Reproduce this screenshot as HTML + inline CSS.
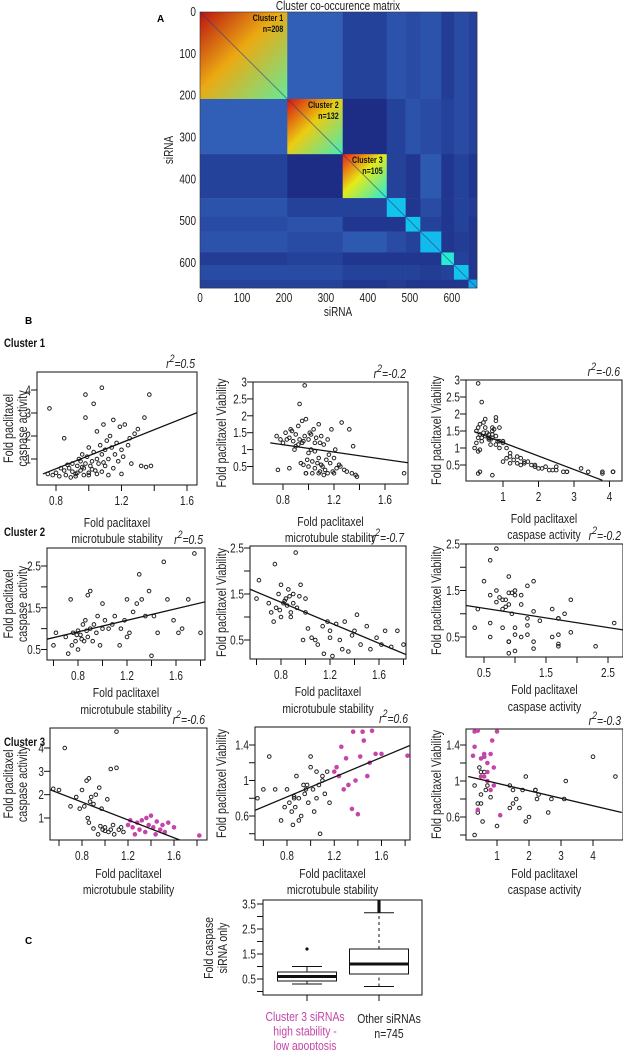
<!DOCTYPE html>
<html><head><meta charset="utf-8"><style>
html,body{margin:0;padding:0;background:#fff;}
svg{display:block;font-family:"Liberation Sans",Arial,sans-serif;}
</style></head><body>
<svg id="fig" width="623" height="1050" viewBox="0 0 623 1050"></svg>
<script>
// ---------- DATA ----------
const blockSizes=[208,132,105,45,35,50,30,35,20];
const blockMatrix=[
[0.72,0.2,0.1,0.16,0.13,0.16,0.08,0.13,0.1],
[0.2,0.68,0.03,0.1,0.16,0.13,0.1,0.13,0.1],
[0.1,0.03,0.64,0.1,0.06,0.18,0.06,0.1,0.06],
[0.16,0.1,0.1,0.33,0.06,0.13,0.06,0.1,0.08],
[0.13,0.16,0.06,0.06,0.33,0.1,0.06,0.1,0.06],
[0.16,0.13,0.18,0.13,0.1,0.32,0.06,0.08,0.06],
[0.08,0.1,0.06,0.06,0.06,0.06,0.4,0.1,0.06],
[0.13,0.13,0.1,0.1,0.1,0.08,0.1,0.33,0.06],
[0.1,0.1,0.06,0.08,0.06,0.06,0.06,0.06,0.3]];
const heatTicks=[0,100,200,300,400,500,600];
const clusterLabels=["Cluster 1","Cluster 2","Cluster 3"];
const clusterN=["n=208","n=132","n=105"];

// [stability, caspase, viability]
const cluster1=[[0.75,0.35,1.4],[0.78,0.3,1.3],[0.8,0.4,1.2],[0.82,0.25,1.5],[0.85,0.5,1.35],[0.86,0.3,1.6],[0.88,0.6,1.25],[0.9,0.45,1.45],[0.9,0.8,1.1],[0.92,0.35,1.7],[0.93,0.7,1.3],[0.94,1.0,0.6],[0.95,0.5,1.85],[0.95,0.9,1.2],[0.96,1.2,0.55],[0.97,0.6,1.4],[0.98,0.8,1.9],[0.98,2.8,0.3],[0.99,1.1,0.7],[1.0,0.4,1.3],[1.0,1.5,0.5],[1.01,0.7,1.5],[1.02,0.9,1.0],[1.03,1.3,0.65],[1.03,3.4,0.3],[1.04,0.5,1.6],[1.05,1.0,1.2],[1.05,2.2,0.45],[1.06,0.8,1.35],[1.07,1.6,0.6],[1.08,1.2,0.75],[1.08,0.45,1.75],[1.09,2.5,0.35],[1.1,1.4,0.55],[1.1,0.7,1.4],[1.11,1.8,0.5],[1.12,1.0,1.15],[1.13,2.0,0.4],[1.14,1.5,0.7],[1.15,0.6,1.3],[1.15,2.7,0.3],[1.16,1.2,0.85],[1.17,1.7,0.6],[1.18,0.9,1.6],[1.19,2.4,0.35],[1.2,1.4,0.75],[1.21,1.1,1.0],[1.22,2.5,0.45],[1.24,1.6,0.55],[1.25,1.9,0.5],[1.26,0.8,1.8],[1.28,2.1,0.4],[1.3,2.3,0.35],[1.32,0.7,1.6],[1.34,2.8,0.3],[1.35,0.65,1.1],[1.37,3.8,0.25],[1.38,0.7,0.2],[0.76,3.2,0.4],[0.98,3.8,0.3],[1.08,4.1,0.3],[1.75,4.1,0.3],[0.97,0.3,2.9],[0.93,0.4,2.35],[0.85,1.9,0.45],[0.92,0.25,1.15],[1.0,0.3,0.9],[1.05,0.35,0.95],[0.89,0.2,1.0],[1.12,0.3,0.25],[1.2,0.35,0.3],[0.83,0.6,1.3],[0.96,0.65,1.25],[1.02,0.55,1.45],[0.87,0.75,1.55],[1.09,0.85,1.2]];
const cluster2=[[0.6,0.6,1.4],[0.62,0.9,1.8],[0.7,0.8,1.3],[0.72,0.4,1.1],[0.74,1.7,0.9],[0.75,0.6,2.15],[0.76,0.9,1.2],[0.78,0.7,1.5],[0.8,0.95,1.0],[0.8,0.5,1.7],[0.82,0.85,1.3],[0.84,1.1,1.4],[0.85,0.7,1.25],[0.86,1.2,1.6],[0.88,0.8,1.1],[0.88,1.8,1.0],[0.9,1.0,1.5],[0.9,1.9,1.3],[0.92,0.7,2.4],[0.93,1.1,1.2],[0.95,0.9,1.45],[0.96,1.3,1.7],[0.98,0.6,0.5],[1.0,1.0,1.4],[1.0,1.6,1.1],[1.02,1.2,0.75],[1.05,1.0,0.55],[1.08,1.1,0.5],[1.1,1.3,0.4],[1.14,0.6,0.8],[1.15,1.0,0.2],[1.18,1.2,0.9],[1.2,0.8,0.7],[1.2,1.7,0.55],[1.22,0.9,0.15],[1.25,1.4,0.85],[1.28,1.6,0.5],[1.3,2.3,0.3],[1.32,1.7,0.9],[1.35,1.3,0.25],[1.38,1.9,0.6],[1.4,0.35,0.7],[1.42,1.3,1.05],[1.45,0.9,0.4],[1.5,2.6,0.8],[1.53,1.7,0.3],[1.58,1.2,0.55],[1.62,0.9,0.4],[1.65,1.0,0.7],[1.7,1.7,0.35],[1.75,2.8,0.7],[1.8,0.9,0.4],[0.83,0.75,1.35],[0.79,0.85,1.15],[0.87,0.95,1.45]];
const cluster3=[[0.55,2.25,0.8],[0.6,2.2,0.9],[0.65,4.0,1.27],[0.7,1.5,0.9],[0.75,1.9,0.55],[0.78,1.4,0.7],[0.8,2.2,0.9],[0.82,1.5,0.75],[0.84,2.6,0.65],[0.85,1.0,0.5],[0.86,2.7,0.8],[0.87,1.7,0.7],[0.88,1.9,1.05],[0.9,1.6,0.8],[0.92,2.0,0.6],[0.94,0.3,0.95],[0.95,2.3,0.85],[0.97,1.4,0.95],[0.98,0.5,0.75],[1.0,0.6,1.27],[1.02,1.8,0.9],[1.03,0.4,0.65],[1.05,3.1,0.8],[1.05,0.5,1.1],[1.07,0.7,0.95],[1.08,0.3,0.4],[1.1,3.15,1.0],[1.1,4.7,1.05],[1.12,0.5,0.85],[1.14,0.6,1.1],[1.16,0.4,0.75],[0.9,0.55,0.55],[1.0,0.45,1.15],[0.86,0.8,0.82],[0.96,0.65,0.9]];
const cluster3Pink=[[1.2,0.7,1.1],[1.22,0.9,1.15],[1.24,0.6,1.05],[1.26,0.3,1.38],[1.28,0.8,0.9],[1.3,0.5,1.25],[1.32,0.9,0.95],[1.35,0.4,0.68],[1.36,1.0,1.55],[1.38,0.7,1.0],[1.4,1.1,0.62],[1.42,0.6,1.27],[1.44,0.3,1.55],[1.45,0.85,1.45],[1.48,0.5,1.05],[1.5,0.7,1.2],[1.52,0.4,1.56],[1.55,0.8,1.3],[1.6,0.6,1.3],[1.82,0.25,1.28]];
const rSquared=[["0.5","-0.2","-0.6"],["0.5","-0.7","-0.2"],["-0.6","0.6","-0.3"]];
// fit lines [x0,y0,x1,y1]
const fitLines=[
[[0.72,0.35,1.78,3.35],[0.7,1.2,1.8,0.6],[0.2,1.48,3.8,0.05]],
[[0.55,0.75,1.85,1.65],[0.55,1.6,1.85,0.15],[0.2,1.18,3.0,0.6]],
[[0.45,2.35,1.68,0.0],[0.45,0.62,1.85,1.4],[0.1,1.05,4.9,0.65]]];
const boxGroups=["Cluster 3 siRNAs","Other siRNAs"];
const boxStats=[[0.3,0.42,0.6,0.78,1.0],[0.2,0.7,1.1,1.7,3.15]];
const boxOutliers=[[1.7],[3.2,3.25,3.3,3.35,3.4,3.45,3.5,3.55,3.6]];
const boxTicks=[0.5,1.5,2.5,3.5];

// ---------- HELPERS ----------
const NS="http://www.w3.org/2000/svg";
const svg=document.getElementById('fig');
const FS=12.5, SX=0.8;
function el(tag,attrs,parent,text){const e=document.createElementNS(NS,tag);for(const k in attrs)e.setAttribute(k,attrs[k]);if(text!==undefined)e.textContent=text;(parent||svg).appendChild(e);return e;}
// condensed text: position via transform, horizontally squeezed
function ctext(parent,x,y,str,anchor,opts){opts=opts||{};const rot=opts.rot?` rotate(${opts.rot})`:'';
 const a={x:0,y:0,'font-size':opts.size||FS,'text-anchor':anchor||'start',fill:opts.fill||'#222',transform:`translate(${x},${y})${rot} scale(${SX},1)`};
 if(opts.italic)a['font-style']='italic';if(opts.bold)a['font-weight']='bold';
 return el('text',a,parent,str);}
function lin(v1,p1,v2,p2){return v=>p1+(v-v1)*(p2-p1)/(v2-v1);}
function cmap(v){
 if(v<0.3){const a=v/0.3;const c0=[26,36,125],c1=[60,125,212];return `rgb(${Math.round(c0[0]+(c1[0]-c0[0])*a)},${Math.round(c0[1]+(c1[1]-c0[1])*a)},${Math.round(c0[2]+(c1[2]-c0[2])*a)})`;}
 const c=x=>Math.max(0,Math.min(1,x));let r=c(1.5-Math.abs(4*v-3)),g=c(1.5-Math.abs(4*v-2)),b=c(1.5-Math.abs(4*v-1));
 const m=0.85;r=r*m+0.07;g=g*m+0.07;b=b*m+0.07;return `rgb(${Math.round(r*255)},${Math.round(g*255)},${Math.round(b*255)})`;}

// ---------- LETTERS ----------
[["A",157,22],["B",25,324],["C",25,944]].forEach(a=>{const t=el('text',{x:a[1],y:a[2],'font-size':10,'font-weight':'bold'},svg,a[0]);

});

// ---------- HEATMAP ----------
const hx=lin(0,200,660,477), hy=lin(0,12,660,288);
const hg=el('g',{});


const defs=el('defs',{});
let starts=[0];blockSizes.forEach((s,i)=>starts.push(starts[i]+s));
for(let i=0;i<blockSizes.length;i++){for(let j=0;j<blockSizes.length;j++){
 const v=blockMatrix[i][j];let fill=cmap(v);
 if(i===j&&i<3){const gid='grad'+i;const lg=el('linearGradient',{id:gid,x1:0,y1:0,x2:1,y2:1},defs);
  el('stop',{offset:'0%','stop-color':cmap(Math.min(0.93,v+0.22))},lg);el('stop',{offset:'45%','stop-color':cmap(v-0.02)},lg);el('stop',{offset:'100%','stop-color':cmap(v-0.25)},lg);fill=`url(#${gid})`;}
 const r=el('rect',{x:hx(starts[j]),y:hy(starts[i]),width:hx(starts[j+1])-hx(starts[j])+0.3,height:hy(starts[i+1])-hy(starts[i])+0.3,fill:fill},hg);
 
 
}}
el('line',{x1:hx(0),y1:hy(0),x2:hx(660),y2:hy(660),stroke:'#2a3c8a','stroke-width':0.8,opacity:0.7},hg);
el('rect',{x:200,y:12,width:277,height:276,fill:'none',stroke:'#333','stroke-width':0.6},hg);
const ht=ctext(svg,338,10,'Cluster co-occurence matrix','middle',{size:12.5});

heatTicks.forEach(t=>{
 ctext(svg,196,hy(t)+4,String(t),'end');
 ctext(svg,hx(t),302,String(t),'middle');
});
const hxl=ctext(svg,338,316,'siRNA','middle');

const hyl=ctext(svg,173,150,'siRNA','middle',{rot:-90});

for(let k=0;k<3;k++){
 const xr=hx(starts[k+1])-4;
 const a=ctext(svg,xr,hy(starts[k])+9,clusterLabels[k],'end',{size:9,bold:true,fill:'#111'});
 
 ctext(svg,xr,hy(starts[k])+20,clusterN[k],'end',{size:9,bold:true,fill:'#111'});
}

// ---------- SCATTERS ----------
[["Cluster 1",347],["Cluster 2",536],["Cluster 3",746]].forEach(c=>{const t=ctext(svg,4,c[1],c[0],'start',{size:12,bold:true,fill:'#111'});
});

const panels=[
 {box:[37,372,197,485],xc:[0.8,56,1.6,187],yc:[1,459,4,390],xt:[0.8,1.2,1.6],xm:[1.0,1.4],yt:[1,2,3,4],ym:[],ylab:2,yx:[8,22],xv:0,yv:1,data:[cluster1],row:0},
 {box:[253,382,408,484],xc:[0.8,283,1.6,385],yc:[0.5,466.5,3,382],xt:[0.8,1.2,1.6],xm:[1.0,1.4],yt:[0.5,1,1.5,2,2.5,3],ym:[],ylab:1,yx:[221],xv:0,yv:2,data:[cluster1],row:0},
 {box:[466,380,622,481],xc:[1,503,4,609.5],yc:[0.5,465,3,380],xt:[1,2,3,4],xm:[],yt:[0.5,1,1.5,2,2.5,3],ym:[],ylab:1,yx:[436],xv:1,yv:2,data:[cluster1],row:0},
 {box:[47,548,205,660],xc:[0.8,78,1.6,176],yc:[0.5,649.5,2.5,566],xt:[0.8,1.2,1.6],xm:[0.6,1.0,1.4,1.8],yt:[0.5,1.5,2.5],ym:[1,2],ylab:2,yx:[8,22],xv:0,yv:1,data:[cluster2],row:1},
 {box:[250,546,406,659],xc:[0.8,281,1.6,379],yc:[0.5,640,2.5,548],xt:[0.8,1.2,1.6],xm:[0.6,1.0,1.4,1.8],yt:[0.5,1.5,2.5],ym:[1,2],ylab:1,yx:[221],xv:0,yv:2,data:[cluster2],row:1},
 {box:[466,544,623,657],xc:[0.5,484,2.5,608],yc:[0.5,637,2.5,544],xt:[0.5,1.5,2.5],xm:[1,2],yt:[0.5,1.5,2.5],ym:[1,2],ylab:1,yx:[436],xv:1,yv:2,data:[cluster2],row:1},
 {box:[50,728,207,840],xc:[0.8,82,1.6,174],yc:[1,818,4,748],xt:[0.8,1.2,1.6],xm:[0.6,1.0,1.4,1.8],yt:[1,2,3,4],ym:[],ylab:2,yx:[8,22],xv:0,yv:1,data:[cluster3,cluster3Pink],row:2},
 {box:[255,727,410,840],xc:[0.8,287,1.6,381.5],yc:[0.6,816,1.4,745],xt:[0.8,1.2,1.6],xm:[0.6,1.0,1.4,1.8],yt:[0.6,1,1.4],ym:[0.4,0.8,1.2],ylab:1,yx:[221],xv:0,yv:2,data:[cluster3,cluster3Pink],row:2},
 {box:[466,729,623,840],xc:[1,497,4,593],yc:[0.6,817,1.4,745],xt:[1,2,3,4],xm:[],yt:[0.6,1,1.4],ym:[0.4,0.8,1.2],ylab:1,yx:[436],xv:1,yv:2,data:[cluster3,cluster3Pink],row:2}
];
const titleOffsets=[[42,58],[37,54],[38,54]];
const xTitles=[["Fold paclitaxel","microtubule stability"],["Fold paclitaxel","microtubule stability"],["Fold paclitaxel","caspase activity"]];
const colors=['#222','#c545a8'];

panels.forEach((p,pi)=>{
 const [l,t,r,b]=p.box;const X=lin(p.xc[0],p.xc[1],p.xc[2],p.xc[3]);const Y=lin(p.yc[0],p.yc[1],p.yc[2],p.yc[3]);
 const col=pi%3,row=p.row;
 const g=el('g',{});
 
 
 const cid='clip'+pi;const cp=el('clipPath',{id:cid},defs);el('rect',{x:l,y:t,width:r-l,height:b-t},cp);
 el('rect',{x:l,y:t,width:r-l,height:b-t,fill:'none',stroke:'#111','stroke-width':1},g);
 p.xt.concat(p.xm).forEach(v=>{el('line',{x1:X(v),x2:X(v),y1:b,y2:b+6,stroke:'#111','stroke-width':1},g);});
 p.xt.forEach(v=>ctext(g,X(v),b+20,String(v),'middle'));
 p.yt.concat(p.ym).forEach(v=>{el('line',{x1:l-6,x2:l,y1:Y(v),y2:Y(v),stroke:'#111','stroke-width':1},g);});
 p.yt.forEach(v=>ctext(g,l-6,Y(v)+4.5,String(v),'end'));
 const to=titleOffsets[row];
 ctext(g,(l+r)/2,b+to[0],xTitles[col][0],'middle',{size:13});
 ctext(g,(l+r)/2,b+to[1],xTitles[col][1],'middle',{size:13});
 const cy=(t+b)/2;
 if(p.ylab===2){
  ctext(g,p.yx[0]+5,cy,'Fold paclitaxel','middle',{rot:-90,size:13.5});
  ctext(g,p.yx[1]+5,cy,'caspase activity','middle',{rot:-90,size:13.5});
 } else {
  ctext(g,p.yx[0]+5,cy,'Fold paclitaxel Viability','middle',{rot:-90,size:13.5});
 }
 const rt=el('text',{x:0,y:0,'font-size':13,'font-style':'italic','text-anchor':'end',fill:'#222',transform:`translate(${r-2},${t-4}) scale(${SX},1)`},g);
 el('tspan',{},rt,'r');el('tspan',{dy:-6,'font-size':11},rt,'2');el('tspan',{dy:6},rt,'='+rSquared[row][col]);
 const pg=el('g',{'clip-path':`url(#${cid})`},g);
 p.data.forEach((set,si)=>{set.forEach(d=>{
  const c=el('circle',{cx:X(d[p.xv]),cy:Y(d[p.yv]),r:1.8,fill:si?colors[1]:'none',stroke:colors[si],'stroke-width':1},pg);
  
  
 });});
 const f=fitLines[row][col];
 const ln=el('line',{x1:X(f[0]),y1:Y(f[1]),x2:X(f[2]),y2:Y(f[3]),stroke:'#111','stroke-width':1.3},pg);
 
 
});

// ---------- BOXPLOT ----------
const BY=lin(0.5,979,3.5,904);
const bcx=[307,379],bw=59;
const bgp=el('g',{});


el('rect',{x:263,y:900,width:159,height:95,fill:'none',stroke:'#111','stroke-width':1},bgp);
[0.5,1,1.5,2,2.5,3,3.5,0].forEach(v=>el('line',{x1:257,x2:263,y1:BY(v),y2:BY(v),stroke:'#111'},bgp));
boxTicks.forEach(v=>ctext(bgp,256,BY(v)+4.5,String(v),'end'));
ctext(bgp,213,948,'Fold caspase','middle',{rot:-90,size:13});
ctext(bgp,227,948,'siRNA only','middle',{rot:-90,size:13});
boxStats.forEach((s,i)=>{
 const cx=bcx[i];
 const g=el('g',{},bgp);
 
 
 const dash=i?'3,3':'none';
 el('line',{x1:cx,x2:cx,y1:BY(s[0]),y2:BY(s[1]),stroke:'#111','stroke-dasharray':dash},g);
 el('line',{x1:cx,x2:cx,y1:BY(s[3]),y2:BY(s[4]),stroke:'#111','stroke-dasharray':dash},g);
 el('line',{x1:cx-15,x2:cx+15,y1:BY(s[0]),y2:BY(s[0]),stroke:'#111'},g);
 el('line',{x1:cx-15,x2:cx+15,y1:BY(s[4]),y2:BY(s[4]),stroke:'#111'},g);
 el('rect',{x:cx-bw/2,y:BY(s[3]),width:bw,height:BY(s[1])-BY(s[3]),fill:'#fff',stroke:'#111'},g);
 el('line',{x1:cx-bw/2,x2:cx+bw/2,y1:BY(s[2]),y2:BY(s[2]),stroke:'#111','stroke-width':3},g);
 boxOutliers[i].forEach(o=>el('circle',{cx:cx,cy:BY(o),r:1.6,fill:'#111'},g));
 el('line',{x1:cx,x2:cx,y1:995,y2:1001,stroke:'#111'},bgp);
});
const lab1=["Cluster 3 siRNAs","high stability -","low apoptosis"];
lab1.forEach((s,i)=>{const t=ctext(svg,305,1021+i*14.5,s,'middle',{size:13,fill:'#c545a8'});
});
["Other siRNAs","n=745"].forEach((s,i)=>{const t=ctext(svg,389,1023+i*15,s,'middle',{size:13});
});
</script>
</body></html>
